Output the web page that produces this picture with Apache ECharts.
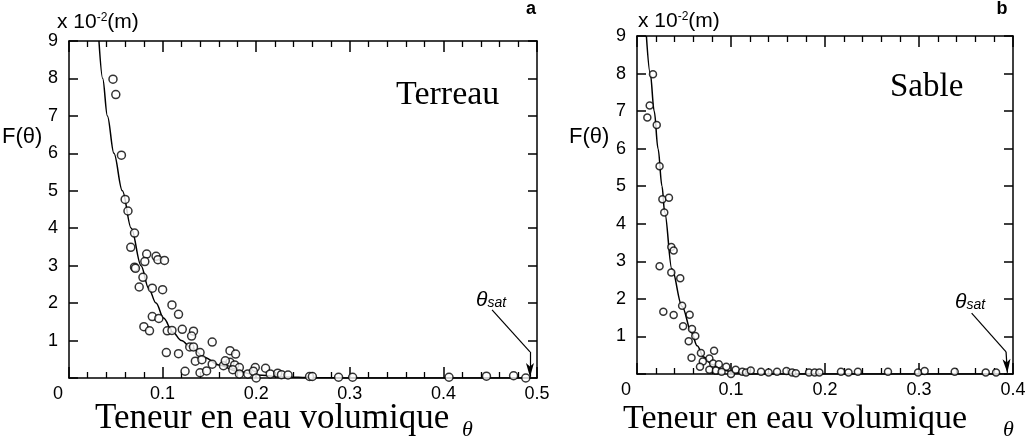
<!DOCTYPE html>
<html>
<head>
<meta charset="utf-8">
<script src="https://cdn.jsdelivr.net/npm/echarts@6/dist/echarts.min.js"></script>
<style>
html,body{margin:0;padding:0;background:#fff;}
#chart{width:1033px;height:439px;}
</style>
</head>
<body>
<div id="chart"></div>
<script>
// ---------- a : Terreau, points mesurés
var terreauTheta = [0.047,0.050,0.056,0.060,0.063,0.070,0.066,0.070,0.071,0.083,0.081,0.093,0.095,0.102,0.079,0.075,0.089,0.100,
    0.089,0.096,0.080,0.086,0.110,0.117,0.105,0.110,0.121,0.133,0.131,0.104,0.117,0.129,0.133,0.140,0.153,0.135,0.142,
    0.124,0.140,0.147,0.153,0.165,0.172,0.178,0.172,0.177,0.167,0.182,0.175,0.182,0.191,0.199,0.197,0.200,0.210,0.215,
    0.223,0.227,0.234,0.257,0.260,0.288,0.303,0.406,0.446,0.475,0.488];
var terreauF = [7.98,7.57,5.95,4.77,4.46,3.87,3.49,2.96,2.93,3.31,3.11,3.25,3.16,3.14,2.69,2.43,2.40,2.36,
    1.64,1.59,1.37,1.26,1.95,1.70,1.26,1.27,1.30,1.25,1.12,0.68,0.65,0.83,0.83,0.68,0.96,0.45,0.49,
    0.18,0.14,0.19,0.37,0.33,0.73,0.64,0.42,0.35,0.46,0.28,0.22,0.11,0.11,0.28,0.18,0.00,0.26,0.11,
    0.13,0.09,0.08,0.04,0.04,0.02,0.02,0.02,0.05,0.06,0.00];
// courbe ajustée (a)
var terreauCurveTheta = [0.032,0.036,0.041,0.048,0.057,0.0665,0.077,0.085,0.093,0.101,0.111,0.120,0.131,0.145,0.160,0.180,0.200,0.230,0.260,0.300,0.400,0.492];
var terreauCurveF = [9.0,8.0,7.0,6.0,5.0,4.0,3.0,2.4,2.0,1.6,1.22,1.0,0.8,0.55,0.35,0.18,0.08,0.03,0.01,0,0,0];

// ---------- b : Sable
var sableTheta = [0.017,0.0135,0.011,0.021,0.024,0.027,0.034,0.029,0.0365,0.039,0.0365,0.024,0.046,0.028,0.039,0.048,0.056,
    0.049,0.0585,0.062,0.055,0.058,0.068,0.082,0.077,0.070,0.067,0.081,0.087,0.095,0.077,0.084,0.090,0.100,0.105,0.112,
    0.116,0.121,0.132,0.140,0.149,0.159,0.165,0.169,0.183,0.189,0.194,0.217,0.225,0.235,0.267,0.299,0.306,0.338,0.371,0.382];
var sableF = [7.98,7.15,6.83,6.63,5.53,4.65,4.69,4.30,3.38,3.29,2.70,2.87,2.55,1.66,1.57,1.82,1.58,
    1.27,1.20,1.01,0.87,0.43,0.56,0.62,0.41,0.33,0.19,0.28,0.26,0.19,0.11,0.09,0.06,0.00,0.11,0.06,
    0.04,0.09,0.06,0.04,0.06,0.08,0.04,0.02,0.04,0.04,0.04,0.06,0.04,0.06,0.06,0.04,0.08,0.06,0.04,0.04];
var sableCurveTheta = [0.010,0.0141,0.0183,0.0224,0.0266,0.0295,0.037,0.048,0.058,0.064,0.071,0.080,0.090,0.105,0.120,0.394];
var sableCurveF = [9,8,7,6,5,4.3,2.8,1.8,1.1,0.75,0.45,0.25,0.12,0.03,0,0];

// flèches theta_sat (coordonnées données)
var satArrowA = [[0.452,1.82],[0.4925,0.70],[0.4925,0.03]];
var satArrowB = [[0.356,1.62],[0.3926,0.59],[0.394,0.03]];

function zip(xs, ys){
    var out = [];
    for (var i = 0; i < xs.length; i++) out.push([xs[i], ys[i]]);
    return out;
}

var labelFont = 'Liberation Sans';
var serifFont = 'Liberation Serif';

function xAxisPair(g, max){
    var base = {
        type:'value', gridIndex:g, min:0, max:max, interval:0.1,
        axisLine:{show:true, onZero:false, lineStyle:{color:'#000', width:1.5}},
        axisTick:{show:true, inside:true, length:11, lineStyle:{color:'#000', width:1.5}},
        minorTick:{show:true, splitNumber:5, length:6, lineStyle:{color:'#000', width:1.3}},
        splitLine:{show:false}, minorSplitLine:{show:false}
    };
    var bottom = echarts.util.merge({
        position:'bottom',
        axisLabel:{
            color:'#000', fontFamily:labelFont, fontSize:18, margin:7,
            formatter:function(v){ return v === 0 ? '{z|0}' : v.toFixed(1); },
            rich:{z:{fontFamily:labelFont, fontSize:18, color:'#000', padding:[0,22,0,0]}}
        }
    }, base, false);
    var top = echarts.util.merge({position:'top', axisLabel:{show:false}}, base, false);
    return [bottom, top];
}

function yAxisPair(g){
    var base = {
        type:'value', gridIndex:g, min:0, max:9, interval:1,
        axisLine:{show:true, onZero:false, lineStyle:{color:'#000', width:1.5}},
        axisTick:{show:true, inside:true, length:9, lineStyle:{color:'#000', width:1.5}},
        splitLine:{show:false}
    };
    var left = echarts.util.merge({
        position:'left',
        axisLabel:{
            color:'#000', fontFamily:labelFont, fontSize:18, margin:11,
            formatter:function(v){ return v === 0 ? '' : String(v); }
        }
    }, base, false);
    var right = echarts.util.merge({position:'right', axisLabel:{show:false}}, base, false);
    return [left, right];
}

function arrowMarkLine(pts){
    return {
        silent:true, animation:false,
        symbol:['none','none'],
        label:{show:false},
        lineStyle:{color:'#000', width:1.2, type:'solid'},
        emphasis:{disabled:true},
        data:[
            [{coord:pts[0]}, {coord:pts[1]}],
            [{coord:pts[1], symbol:'none'}, {coord:pts[2], symbol:'arrow', symbolSize:[6,14]}]
        ]
    };
}

// x 10^-2 (m) en texte riche
var unitRich = {
    n:{fontFamily:labelFont, fontSize:21, color:'#000'},
    s:{fontFamily:labelFont, fontSize:12, color:'#000', verticalAlign:'top'}
};
var satRich = {
    t:{fontFamily:labelFont, fontStyle:'italic', fontSize:21},
    s:{fontFamily:labelFont, fontStyle:'italic', fontSize:14, verticalAlign:'bottom'}
};

var scatterStyle = {color:'#fff', borderColor:'#000', borderWidth:1.5};

var chart = echarts.init(document.getElementById('chart'));
var xa = xAxisPair(0, 0.5), xb = xAxisPair(1, 0.4);
var ya = yAxisPair(0), yb = yAxisPair(1);

chart.setOption({
    animation:false,
    textStyle:{fontFamily:labelFont},
    grid:[
        {left:69, top:41, width:468, height:337},
        {left:637, top:36, width:376, height:338}
    ],
    xAxis:[xa[0], xa[1], xb[0], xb[1]],
    yAxis:[ya[0], ya[1], yb[0], yb[1]],
    series:[
        {
            name:'Terreau courbe', type:'line', xAxisIndex:0, yAxisIndex:0,
            data:zip(terreauCurveTheta, terreauCurveF),
            symbol:'none', smooth:0.35, smoothMonotone:'x',
            lineStyle:{color:'#000', width:1.5}, z:2,
            markLine:arrowMarkLine(satArrowA)
        },
        {
            name:'Terreau', type:'scatter', xAxisIndex:0, yAxisIndex:0,
            data:zip(terreauTheta, terreauF),
            symbol:'circle', symbolSize:8, itemStyle:scatterStyle, z:3
        },
        {
            name:'Sable courbe', type:'line', xAxisIndex:2, yAxisIndex:2,
            data:zip(sableCurveTheta, sableCurveF),
            symbol:'none', smooth:0.35, smoothMonotone:'x',
            lineStyle:{color:'#000', width:1.5}, z:2,
            markLine:arrowMarkLine(satArrowB)
        },
        {
            name:'Sable', type:'scatter', xAxisIndex:2, yAxisIndex:2,
            data:zip(sableTheta, sableF),
            symbol:'circle', symbolSize:7, itemStyle:scatterStyle, z:3
        }
    ],
    graphic:[
        // panneau a
        {type:'text', x:57, y:22, style:{text:'{n|x 10}{s|-2}{n|(m)}', fill:'#000', verticalAlign:'middle', rich:unitRich}},
        {type:'text', x:2, y:137, style:{text:'F(\u03B8)', font:'22px "Liberation Sans"', fill:'#000', verticalAlign:'middle'}},
        {type:'text', x:531, y:9, style:{text:'a', font:'bold 18px "Liberation Sans"', fill:'#000', align:'center', verticalAlign:'middle'}},
        {type:'text', x:396, y:95, style:{text:'Terreau', font:'34px "Liberation Serif"', fill:'#000', verticalAlign:'middle'}},
        {type:'text', x:95, y:419, style:{text:'Teneur en eau volumique', font:'35px "Liberation Serif"', fill:'#000', verticalAlign:'middle'}},
        {type:'text', x:462, y:430, style:{text:'\u03B8', font:'italic 22px "Liberation Serif"', fill:'#000', verticalAlign:'middle'}},
        {type:'text', x:476, y:300, style:{text:'{t|\u03B8}{s|sat}', fill:'#000', verticalAlign:'middle', rich:satRich}},
        // panneau b
        {type:'text', x:638, y:21, style:{text:'{n|x 10}{s|-2}{n|(m)}', fill:'#000', verticalAlign:'middle', rich:unitRich}},
        {type:'text', x:569, y:137, style:{text:'F(\u03B8)', font:'22px "Liberation Sans"', fill:'#000', verticalAlign:'middle'}},
        {type:'text', x:1002, y:9, style:{text:'b', font:'bold 18px "Liberation Sans"', fill:'#000', align:'center', verticalAlign:'middle'}},
        {type:'text', x:890, y:87, style:{text:'Sable', font:'33px "Liberation Serif"', fill:'#000', verticalAlign:'middle'}},
        {type:'text', x:623, y:419, style:{text:'Teneur en eau volumique', font:'34px "Liberation Serif"', fill:'#000', verticalAlign:'middle'}},
        {type:'text', x:1003, y:430, style:{text:'\u03B8', font:'italic 22px "Liberation Serif"', fill:'#000', verticalAlign:'middle'}},
        {type:'text', x:955, y:302, style:{text:'{t|\u03B8}{s|sat}', fill:'#000', verticalAlign:'middle', rich:satRich}}
    ]
});
</script>
</body>
</html>
